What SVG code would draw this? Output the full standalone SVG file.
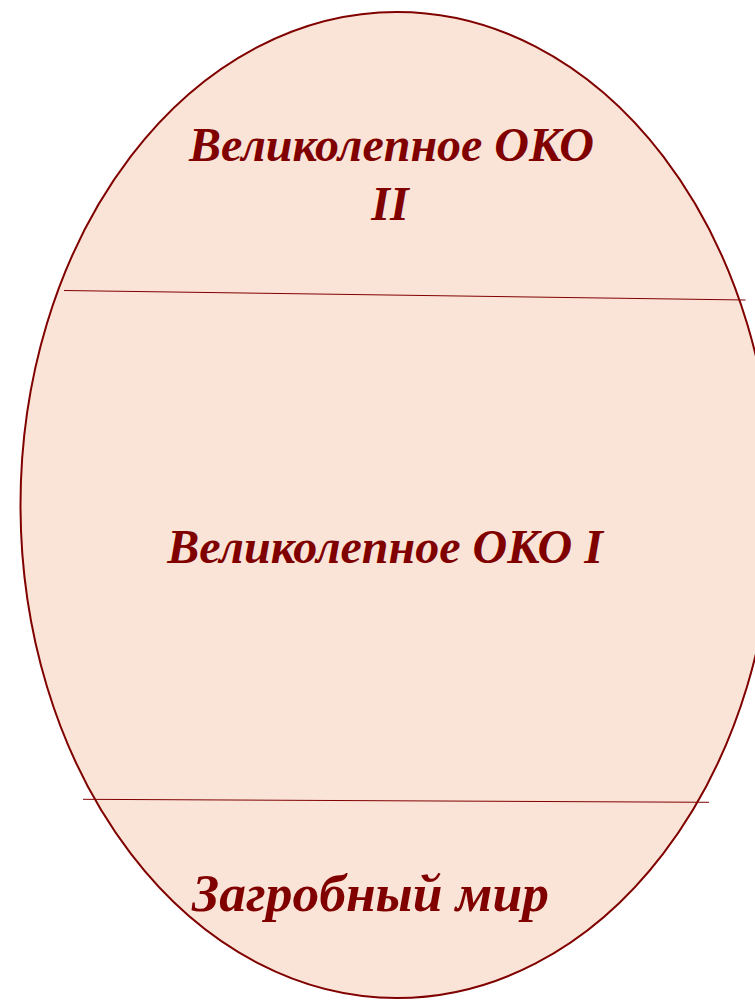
<svg xmlns="http://www.w3.org/2000/svg" width="755" height="1000" viewBox="0 0 755 1000">
<style>
.lbl{font-family:"Liberation Serif","Times New Roman",serif;font-weight:bold;font-style:italic;fill:#800000;text-anchor:middle}
.div{stroke:#800000;stroke-width:1;fill:none}
</style>
<rect width="755" height="1000" fill="#ffffff"/>
<g id="egg">
<ellipse cx="397" cy="505" rx="376.5" ry="493" fill="#FAE4D7" stroke="#800000" stroke-width="2"/>
</g>
<g id="connectors">
<line class="div" x1="64" y1="290.5" x2="745.5" y2="300"/>
<line class="div" x1="83" y1="799.3" x2="709" y2="802.3"/>
</g>
<g id="oko2">
<text class="lbl" x="391.5" y="161" font-size="48">Великолепное ОКО</text>
<text class="lbl" x="390" y="220" font-size="48">II</text>
</g>
<g id="oko1">
<text class="lbl" x="385" y="563" font-size="48">Великолепное ОКО I</text>
</g>
<g id="underworld">
<text class="lbl" x="370.5" y="911" font-size="53.5">Загробный мир</text>
</g>
</svg>
